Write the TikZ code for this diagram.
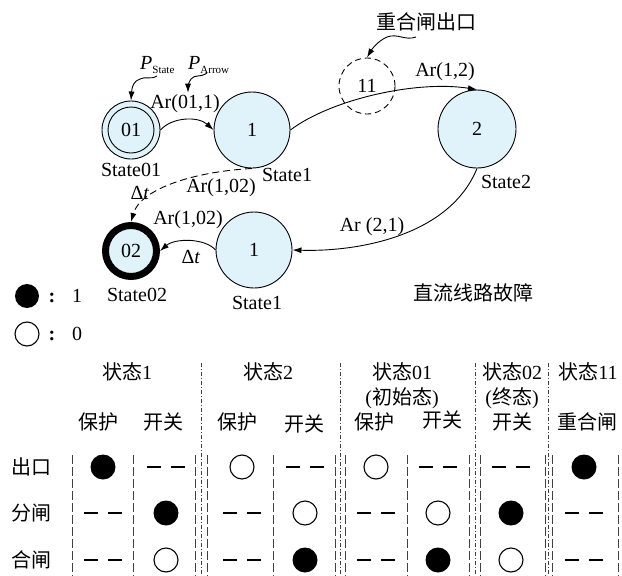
\documentclass[tikz,border=0pt]{standalone}
\usepackage{fontspec}
\setmainfont{Liberation Serif}
\newfontfamily\cjk{Noto Sans CJK SC}
\usetikzlibrary{arrows.meta}
\definecolor{stfill}{RGB}{224,242,250}
\newcommand\myF[2]{\fill (#1,#2) circle[radius=12.5];}
\newcommand\myO[2]{\draw[line width=1.1pt] (#1,#2) circle[radius=12];}
\newcommand\myD[2]{\draw[line width=2pt] (#1-19,#2) -- (#1-5,#2) (#1+5,#2) -- (#1+19,#2);}
\begin{document}
\begin{tikzpicture}[x=1pt,y=-1pt,font=\fontsize{20}{24}\selectfont,
  st/.style={circle,draw,fill=stfill,line width=0.9pt,inner sep=0pt},
  txt/.style={inner sep=0pt},
  arr/.style={-{Latex[length=9pt,width=6pt]},line width=0.9pt},
  darr/.style={arr,dash pattern=on 7pt off 4pt},
  vdash/.style={line width=0.8pt,dash pattern=on 9pt off 3pt,black!75},
  vdd/.style={line width=0.8pt,dash pattern=on 4pt off 2pt on 1pt off 2pt,black!75}]
\useasboundingbox (0,0) rectangle (622,576);

% states
\node[st,minimum size=58pt] (s01) at (131,130) {01};
\draw[line width=0.9pt] (s01.center) circle[radius=23];
\node[st,minimum size=76pt] (s1) at (252,130) {1};
\node[st,minimum size=78pt] (s2) at (477,129) {2};
\node[st,minimum size=76pt] (s1b) at (254,250) {1};
\node[st,line width=7pt,minimum size=51pt] (s02) at (131,251) {02};
\node[circle,draw,dash pattern=on 6pt off 4pt,line width=0.9pt,minimum size=56pt,inner sep=0pt] (s11) at (367,86) {11};

% state labels
\node[txt] (l01) at (131,170) {State01};
\node[txt] (l1) at (287,175) {State1};
\node[txt] (l2) at (506,182) {State2};
\node[txt] (l02) at (137,295) {State02};
\node[txt] (l1b) at (257,303) {State1};

% pointers
\node[txt,anchor=base west] (pst) at (140,69) {\textit{P}\raisebox{-4pt}{\fontsize{11}{12}\selectfont State}};
\node[txt,anchor=base west] (par) at (188,69) {\textit{P}\raisebox{-4pt}{\fontsize{11}{12}\selectfont Arrow}};
\node[txt] (ar011) at (185,104) {Ar(01,1)};
\node[txt] (reh) at (426,22) {\cjk 重合闸出口};
\coordinate (pstT) at (157,76);
\coordinate (parT) at (207,73);
\coordinate (rehT) at (416,37);
\draw[arr] (pstT) .. controls (150,80) and (146,76) .. (140,79) .. controls (134,81) and (132,86) .. (s01.north);
\draw[arr] (parT) .. controls (200,78) and (195,74) .. (191,79) .. controls (188,83) and (188,88) .. ([xshift=3pt,yshift=2pt]ar011.north);
\draw[arr] (rehT) .. controls (405,41) and (398,33) .. (387,37) .. controls (378,41) and (372,49) .. (s11.north);

% transitions
\draw[arr] (s01.east) .. controls (172,117) and (198,116) .. (s1.west);
\node[txt] (a12) at (445,72) {Ar(1,2)};
\draw[arr] (s1.east) .. controls (330,100) and (415,80) .. (s2.north);
\node[txt] (a21) at (372,227) {Ar (2,1)};
\draw[arr] (s2.south) .. controls (450,235) and (360,252) .. (s1b.east);
\node[txt] (a102b) at (188,220) {Ar(1,02)};
\node[txt] (dtb) at (191,257) {Δ\textit{t}};
\draw[arr] (s1b.west) .. controls (205,238) and (175,238) .. (s02.east);
\node[txt] (a102a) at (221,188) {Ar(1,02)};
\node[txt] (dta) at (140,193) {Δ\textit{t}};
\draw[darr] (s1.south) .. controls (190,172) and (140,190) .. (s02.north);

% legend
\fill (27,296) circle[radius=12];
\node[txt] (c1) at (52,298) {\textbf{:}};
\node[txt] (v1) at (77,296) {1};
\draw[line width=1.1pt] (27,334) circle[radius=12];
\node[txt] (c0) at (52,336) {\textbf{:}};
\node[txt] (v0) at (77,334) {0};
\node[txt] (dc) at (473,293) {\cjk 直流线路故障};

% table headers
\node[txt] (h1) at (127,372) {{\cjk 状态}1};
\node[txt] (h2) at (268,372) {{\cjk 状态}2};
\node[txt] (h01) at (402,372) {{\cjk 状态}01};
\node[txt] (h01b) at (402,398) {({\cjk 初始态})};
\node[txt] (h02) at (512,372) {{\cjk 状态}02};
\node[txt] (h02b) at (512,398) {({\cjk 终态})};
\node[txt] (h11) at (588,372) {{\cjk 状态}11};
\node[txt] (p1) at (98,422) {\cjk 保护};
\node[txt] (k1) at (163,422) {\cjk 开关};
\node[txt] (p2) at (237,422) {\cjk 保护};
\node[txt] (k2) at (304,424) {\cjk 开关};
\node[txt] (p3) at (374,422) {\cjk 保护};
\node[txt] (k3) at (442,420) {\cjk 开关};
\node[txt] (k4) at (512,422) {\cjk 开关};
\node[txt] (r5) at (587,422) {\cjk 重合闸};
\node[txt] (r1) at (32,467) {\cjk 出口};
\node[txt] (r2) at (32,513) {\cjk 分闸};
\node[txt] (r3) at (32,560) {\cjk 合闸};

% separators
\foreach \x in {72,133,195,207,273,335,345,407,469,480,545,552,618}
  \draw[vdash] (\x,455) -- (\x,576);
\foreach \x in {201,340,475,548}
  \draw[vdd] (\x,363) -- (\x,576);

% cells
\myF{103}{467} \myD{166}{467} \myO{242}{467} \myD{305}{467} \myO{376}{467} \myD{438}{467} \myD{511}{467} \myF{584}{467}
\myD{103}{513} \myF{166}{513} \myD{242}{513} \myO{305}{513} \myD{376}{513} \myO{438}{513} \myF{511}{513} \myD{584}{513}
\myD{103}{560} \myO{166}{560} \myD{242}{560} \myF{305}{560} \myD{376}{560} \myF{438}{560} \myO{511}{560} \myD{584}{560}
\end{tikzpicture}
\end{document}
